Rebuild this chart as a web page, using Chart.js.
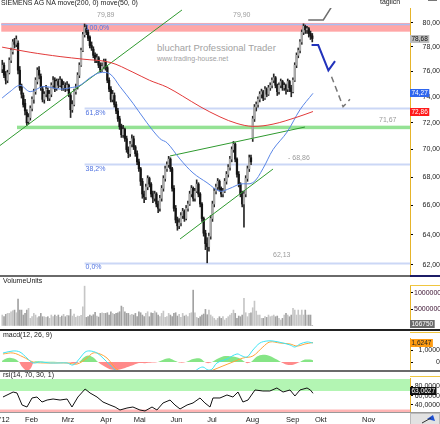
<!DOCTYPE html>
<html>
<head>
<meta charset="utf-8">
<script src="https://cdn.jsdelivr.net/npm/chart.js@4/dist/chart.umd.min.js"></script>
<style>
  body { margin:0; background:#fff; width:440px; height:424px; overflow:hidden; position:relative; font-family:"Liberation Sans", Arial, sans-serif; }
  canvas { position:absolute; left:0; }
  .lbl { position:absolute; font-size:7px; line-height:8px; color:#1a1a1a; white-space:nowrap; }
  .bar { position:absolute; }
</style>
</head>
<body>
<div class="lbl" style="left:157px;top:43px;font-size:9.5px;line-height:10px;color:#a2a2a2">bluchart Professional Trader</div>
<div class="lbl" style="left:157px;top:55px;color:#a2a2a2">www.trading-house.net</div>

<canvas id="priceCanvas" width="440" height="277" style="top:0"></canvas>
<canvas id="volumeCanvas" width="440" height="53" style="top:277px"></canvas>
<canvas id="macdCanvas" width="440" height="42" style="top:330px"></canvas>
<canvas id="rsiCanvas" width="440" height="52" style="top:372px"></canvas>

<div class="lbl" style="left:1px;top:-1px">SIEMENS AG NA move(200, 0) move(50, 0)</div>
<div class="lbl" style="left:380px;top:-2px">täglich</div>
<div class="bar" style="left:428px;top:0;width:9px;height:1px;background:#777"></div>
<div class="lbl" style="left:3px;top:277px">VolumeUnits</div>
<div class="lbl" style="left:3px;top:331px">macd(12, 26, 9)</div>
<div class="lbl" style="left:3px;top:371px">rsi(14, 70, 30, 1)</div>

<div class="bar" style="left:0;top:275px;width:410px;height:2px;background:#6a6a6a"></div>
<div class="bar" style="left:410px;top:275px;width:30px;height:2px;background:#1c1c66"></div>
<div class="bar" style="left:410px;top:285px;width:30px;height:1px;background:#f0c640"></div>
<div class="bar" style="left:0;top:329px;width:440px;height:2px;background:#222"></div>
<div class="bar" style="left:410px;top:332px;width:30px;height:1px;background:#f0c640"></div>
<div class="bar" style="left:0;top:370px;width:440px;height:2px;background:#6a6a6a"></div>
<div class="bar" style="left:410px;top:376px;width:30px;height:1px;background:#f0c640"></div>
<div class="bar" style="left:0;top:412px;width:440px;height:1px;background:#9a9a9a"></div>

<script>
  Chart.defaults.font.family = '"Liberation Sans", Arial, sans-serif';
  Chart.defaults.font.size = 7;
  Chart.defaults.color = '#222';
  Chart.defaults.animation = false;

  // trading day index of the first candle (2 Jan 2012 = 0)
  const firstDay = 9;

  const opens = [
    76.2, 76.5, 75.8, 75.3, 75.9, 76.9, 77.6, 78.4, 78.2, 78.3,
    76.1, 74.8, 74.1, 73.5, 72.8, 72.1, 72.4, 73.1, 73.8, 74.4,
    75.2, 76.1, 75.6, 74.6, 73.8, 74.2, 74.5, 73.9, 74.2, 74.9,
    75.3, 74.7, 75.2, 74.9, 75.3, 74.7, 74.9, 74.6, 74.9, 74.1,
    73.0, 73.4, 74.4, 74.8, 75.7, 76.5, 77.7, 79.0, 79.5, 79.2,
    78.8, 78.1, 77.8, 77.3, 76.9, 77.1, 76.5, 76.1, 76.4, 76.8,
    76.3, 75.3, 74.6, 73.8, 74.1, 73.4, 72.9, 72.3, 71.7, 71.1,
    71.5, 70.8, 70.0, 69.7, 70.4, 70.8, 70.2, 69.7, 69.1, 68.6,
    67.7, 66.8, 66.6, 67.3, 67.9, 67.5, 66.8, 66.5, 66.8, 66.1,
    65.8, 66.5, 67.2, 67.9, 68.6, 68.9, 69.3, 68.6, 67.2, 65.8,
    65.0, 64.6, 64.8, 65.3, 65.6, 65.1, 65.8, 66.1, 66.8, 67.2,
    66.5, 67.0, 67.5, 66.8, 66.1, 65.1, 64.1, 63.4, 63.2, 63.9,
    65.1, 66.1, 67.0, 67.3, 67.7, 67.2, 66.8, 67.0, 67.7, 68.2,
    68.7, 69.3, 70.0, 70.4, 69.3, 68.2, 67.5, 66.8, 66.1, 66.8,
    67.9, 68.6, 69.4, 70.8, 72.3, 73.2, 73.4, 73.8, 74.2, 74.4,
    73.9, 74.6, 74.2, 74.7, 74.9, 75.3, 75.5, 74.9, 74.4, 74.9,
    75.2, 74.7, 74.9, 74.6, 75.2, 74.7, 74.4, 75.3, 76.5, 77.3,
    77.7, 78.4, 79.2, 79.7, 79.4, 79.5, 79.1, 78.9
  ];
  const highs = [
    76.9, 76.7, 76.0, 76.1, 77.1, 77.9, 78.6, 78.7, 78.9, 78.5,
    76.4, 75.0, 74.3, 73.8, 73.0, 72.7, 73.3, 74.0, 74.6, 75.5,
    76.3, 76.4, 75.8, 74.8, 74.4, 74.9, 74.7, 74.5, 75.1, 75.6,
    75.5, 75.4, 75.4, 75.6, 75.4, 75.2, 75.1, 75.2, 75.0, 74.3,
    73.7, 74.6, 75.0, 75.9, 76.7, 77.9, 79.2, 79.89, 79.8, 79.4,
    78.9, 78.4, 78.0, 77.5, 77.4, 77.2, 76.7, 76.7, 77.0, 77.0,
    76.4, 75.5, 74.8, 74.5, 74.3, 73.6, 73.1, 72.5, 71.9, 71.8,
    71.6, 71.0, 70.2, 70.6, 71.1, 71.0, 70.3, 69.9, 69.3, 68.7,
    67.9, 67.0, 67.5, 68.1, 68.0, 67.6, 67.0, 67.0, 66.9, 66.3,
    66.7, 67.4, 68.1, 68.8, 69.1, 69.5, 69.4, 68.7, 67.4, 66.0,
    65.2, 65.1, 65.5, 65.8, 65.7, 66.0, 66.3, 67.0, 67.4, 67.3,
    67.2, 67.8, 67.6, 66.9, 66.2, 65.2, 64.3, 63.8, 64.1, 65.3,
    66.3, 67.2, 67.5, 67.9, 67.8, 67.3, 67.2, 67.9, 68.4, 68.9,
    69.5, 70.2, 70.6, 70.5, 69.4, 68.4, 67.6, 67.0, 67.0, 68.1,
    68.8, 69.6, 69.6, 72.5, 73.4, 73.6, 74.0, 74.4, 74.6, 74.5,
    74.8, 74.7, 74.9, 75.1, 75.5, 75.8, 75.6, 75.0, 75.1, 75.4,
    75.3, 75.1, 75.0, 75.4, 75.3, 74.9, 75.5, 76.7, 77.5, 77.9,
    78.6, 79.4, 79.9, 79.8, 79.7, 79.6, 79.3, 79.1
  ];
  const lows = [
    75.9, 75.5, 75.0, 75.1, 75.8, 76.7, 77.4, 77.9, 78.0, 75.8,
    74.5, 73.9, 73.2, 72.6, 71.8, 71.9, 72.2, 72.9, 73.5, 74.2,
    75.0, 75.4, 74.5, 73.6, 73.5, 74.0, 73.7, 73.7, 74.0, 74.7,
    74.4, 74.5, 74.7, 74.8, 74.5, 74.5, 74.4, 74.5, 74.0, 72.4,
    72.8, 73.3, 74.2, 74.6, 75.5, 76.4, 77.6, 78.8, 79.0, 78.5,
    77.9, 77.7, 77.1, 76.7, 76.7, 76.3, 75.9, 76.0, 76.2, 76.1,
    75.1, 74.4, 73.6, 73.6, 73.2, 72.7, 72.1, 71.5, 70.9, 70.9,
    70.6, 69.8, 69.4, 69.5, 70.2, 70.0, 69.5, 68.9, 68.4, 67.4,
    66.5, 66.2, 66.4, 67.1, 67.3, 66.6, 66.2, 66.3, 65.9, 65.5,
    65.6, 66.3, 67.0, 67.7, 68.4, 68.7, 68.4, 67.0, 65.6, 64.8,
    64.3, 64.4, 64.6, 65.1, 64.9, 65.0, 65.6, 66.0, 66.6, 66.3,
    66.3, 66.9, 66.6, 65.9, 64.9, 63.9, 63.0, 62.13, 62.9, 63.7,
    64.9, 65.9, 66.8, 67.1, 67.0, 66.6, 66.6, 66.9, 67.5, 68.0,
    68.5, 69.1, 69.8, 69.1, 68.0, 67.3, 66.6, 65.9, 64.5, 66.6,
    67.7, 68.4, 68.9, 70.6, 72.1, 72.9, 73.2, 73.6, 73.9, 73.7,
    73.8, 74.0, 74.1, 74.5, 74.7, 75.1, 74.7, 74.1, 74.2, 74.7,
    74.5, 74.5, 74.2, 74.4, 74.4, 74.0, 74.3, 75.2, 76.3, 77.1,
    77.5, 78.2, 79.0, 79.1, 79.1, 78.8, 78.6, 78.4
  ];
  const closes = [
    76.5, 75.7, 75.3, 75.9, 76.9, 77.7, 78.4, 78.2, 78.6, 76.1,
    74.7, 74.2, 73.4, 72.9, 72.0, 72.4, 73.1, 73.8, 74.4, 75.3,
    76.1, 75.7, 74.7, 73.8, 74.2, 74.6, 73.9, 74.2, 74.9, 75.3,
    74.6, 75.2, 74.9, 75.3, 74.7, 74.9, 74.6, 74.9, 74.2, 73.0,
    73.4, 74.4, 74.7, 75.7, 76.5, 77.7, 79.0, 79.6, 79.2, 78.7,
    78.1, 77.9, 77.3, 76.9, 77.1, 76.5, 76.1, 76.4, 76.8, 76.3,
    75.3, 74.6, 73.8, 74.2, 73.4, 72.9, 72.3, 71.7, 71.1, 71.5,
    70.8, 70.0, 69.7, 70.4, 70.8, 70.2, 69.7, 69.1, 68.6, 67.7,
    66.8, 66.6, 67.3, 67.9, 67.5, 66.8, 66.5, 66.8, 66.1, 65.8,
    66.5, 67.2, 67.9, 68.6, 68.9, 69.3, 68.6, 67.2, 65.8, 65.0,
    64.6, 64.8, 65.3, 65.6, 65.1, 65.8, 66.1, 66.8, 67.2, 66.5,
    67.0, 67.5, 66.8, 66.1, 65.1, 64.1, 63.4, 63.2, 63.9, 65.1,
    66.1, 67.0, 67.3, 67.7, 67.2, 66.8, 67.0, 67.7, 68.2, 68.7,
    69.3, 70.0, 70.4, 69.3, 68.2, 67.5, 66.8, 66.1, 66.8, 67.9,
    68.6, 69.4, 69.1, 72.3, 73.2, 73.4, 73.8, 74.2, 74.4, 73.9,
    74.6, 74.2, 74.7, 74.9, 75.3, 75.5, 74.9, 74.4, 74.9, 75.2,
    74.7, 74.9, 74.6, 75.2, 74.7, 74.4, 75.3, 76.5, 77.3, 77.7,
    78.4, 79.2, 79.7, 79.4, 79.5, 79.1, 78.9, 78.68
  ];
  // volume in millions of units
  const volumeMio = [
    3.3, 2.8, 3.5, 3.8, 3.8, 4.3, 4.6, 4.8, 4.0, 8.1,
    4.8, 4.8, 3.3, 3.8, 4.8, 5.3, 2.3, 2.8, 3.8, 3.3,
    2.5, 2.8, 3.8, 2.8, 2.8, 2.6, 2.8, 2.3, 3.3, 2.8,
    3.3, 2.9, 3.3, 2.6, 3.0, 3.5, 2.8, 3.2, 3.1, 5.0,
    3.0, 3.6, 2.6, 3.0, 2.9, 3.2, 5.8, 12.0, 2.6, 2.8,
    3.3, 3.0, 3.4, 4.1, 3.0, 2.7, 3.8, 4.0, 3.8, 3.8,
    4.0, 3.3, 4.3, 3.8, 3.5, 3.8, 4.0, 4.3, 6.0, 5.6,
    4.3, 3.8, 3.8, 3.3, 3.5, 3.3, 3.8, 2.8, 4.3, 4.0,
    3.3, 2.8, 3.8, 4.3, 2.8, 4.0, 3.8, 4.5, 4.0, 3.3,
    2.8, 3.8, 4.5, 2.6, 2.8, 3.8, 3.3, 2.8, 3.8, 4.0,
    3.0, 3.5, 2.6, 3.8, 3.0, 3.3, 2.8, 3.8, 4.0, 10.8,
    4.0, 2.6, 2.3, 2.8, 3.3, 3.6, 5.0, 3.4, 4.8, 3.3,
    2.8, 2.3, 1.8, 2.3, 2.8, 2.3, 2.8, 1.8, 2.3, 2.8,
    3.3, 3.8, 4.8, 3.8, 2.3, 3.0, 2.8, 3.3, 8.3, 4.0,
    2.8, 3.8, 4.0, 5.5, 7.5, 4.5, 3.3, 3.3, 2.3, 2.3,
    2.8, 2.6, 3.3, 2.8, 3.0, 3.3, 2.8, 3.0, 2.3, 1.8,
    2.3, 3.3, 3.8, 3.3, 2.8, 3.3, 5.3, 4.8, 3.3, 4.8,
    3.3, 4.8, 3.3, 4.8, 3.3, 3.3, 3.3, 0.16675
  ];

  // moving averages: [trading day, value]
  const ma200 = [[8.9,77.97],[24.9,77.55],[42,77.2],[55.1,76.99],[70.5,76.73],[83.6,75.94],[93,75.3],[103.1,74.75],[112,74.05],[121.9,73.24],[133.3,72.45],[143,71.95],[152.1,71.73],[163.6,71.9],[177.3,72.43],[186.4,72.86]];
  const ma50 = [[8.9,73.9],[13.4,74.4],[19.1,74.9],[24.9,74.4],[32.3,74.8],[42,74.6],[47.7,74.7],[53.4,74.9],[59.1,75.5],[64.8,75.9],[70.5,75.8],[76.2,74.8],[83.6,73.5],[91.6,72.0],[99.1,70.8],[103.1,70.5],[110.5,69.3],[117.9,68.3],[125.9,67.6],[133.3,67.0],[139,67.2],[144.7,67.5],[152.1,67.6],[157.8,68.6],[163.6,70.0],[171.6,71.3],[179,73.0],[186.4,74.27]];

  // drawn trend lines and projections: [trading day, price]
  const trendLines = [
    [[7.7,70.3],[111.6,81.08]],
    [[104.8,69.53],[181.8,71.68]],
    [[110.5,63.71],[163.6,68.58]]
  ];
  const projGrey = [[183.7,80.23],[192.3,80.23],[201,82.3]];
  const projBlue = [[185.6,78.14],[189.4,78.14],[195.2,76.08],[199,76.83]];
  const projDashed = [[197,75.58],[203.6,73.23],[207.5,73.8]];

  const fibLevels = [79.89, 73.11, 68.91, 62.13];
  const fibLabels = ['100,0%', '61,8%', '38,2%', '0,0%'];
  const fibStartDay = 56;
  const resistanceZone = [79.25, 79.98];
  const supportLevel = 71.67;
  const supportStartDay = 17.4;

  // MACD (12,26,9): [trading day, value]
  const macdLine = [[9.4,0.75],[15.2,0.92],[19.1,0.83],[23.1,0.33],[26.6,-0.08],[30.6,0],[36.3,-0.08],[42,-0.08],[46,-0.08],[49.4,-0.25],[53.4,0.33],[56.3,0.83],[59.1,0.92],[63.1,0.75],[66.5,0.33],[70.5,-0.25],[73.4,-0.67],[79.1,-1.2],[87.6,-1.6],[99,-1.3],[110.5,-1.4],[117,-1.0],[120.7,-0.58],[123.6,-0.42],[126.5,-0.67],[128.7,-0.6],[131.6,-0.08],[137.3,0.25],[143,0.67],[145.9,0.5],[148.8,0.42],[152.1,1.0],[156.1,1.58],[160.1,1.75],[163.6,1.75],[169.3,1.58],[173.3,1.42],[176.1,1.25],[179,1.5],[183,1.67],[186.4,1.58]];
  const macdSignal = [[9.4,0.67],[15.2,0.75],[20.9,0.42],[26.6,0],[32.3,-0.08],[38,-0.08],[46,-0.08],[51.7,-0.17],[57.4,0.33],[60.8,0.75],[64.8,0.67],[68.8,0.33],[72.2,-0.25],[75.1,-0.67],[85,-1.1],[100,-1.4],[115,-1.3],[125,-0.9],[129.3,-0.67],[135,-0.33],[140.7,0],[146.4,0.33],[152.1,0.5],[157.8,1.25],[161.8,1.67],[167.6,1.58],[173.3,1.5],[177.3,1.33],[181.8,1.5],[186.4,1.6247]];
  const macdHist = [[8.9,0.1],[11.2,0.3],[13.4,0.35],[16.3,0.25],[18.6,0],[20.3,-0.4],[23.1,-0.75],[25.4,-0.5],[27.1,0],[30.6,0.05],[35.1,0.02],[42,0],[47.7,-0.05],[50.5,-0.15],[52.8,0],[55.7,0.4],[58,0.55],[60.8,0.4],[63.7,0],[66.5,-0.3],[70.5,-0.6],[75.1,-0.65],[79.1,-0.5],[83.1,-0.3],[86.5,-0.1],[90.5,-0.1],[94.5,-0.05],[97.9,0],[101.9,0.25],[104.8,0.3],[107.6,0.1],[110.5,-0.05],[113.9,0],[117.9,0.25],[121.9,0.3],[124.7,0],[126.5,-0.1],[128.7,0],[132.2,0.3],[136.2,0.5],[140.7,0.45],[144.7,0.3],[147.6,0],[148.8,-0.1],[151,0],[154.4,0.45],[157.8,0.6],[161.8,0.5],[165.8,0.2],[168.1,0],[171,-0.2],[174.4,-0.25],[177.3,-0.1],[179,0],[181.8,0.2],[184.7,0.2],[186.4,0.15]];

  // RSI (14): [trading day, value]
  const rsiLine = [[9.4,57.0],[15.2,67.8],[17.4,65.7],[20.3,39.7],[23.1,35.4],[26,54.9],[28.8,57.0],[31.7,46.2],[34.6,50.5],[38,52.7],[42,50.5],[46,52.7],[48.8,35.4],[52.2,57.0],[56.3,74.3],[59.1,65.7],[63.1,57.0],[66.5,46.2],[70.5,39.7],[73.4,35.4],[76.2,28.9],[80.2,33.2],[83.6,35.4],[87.6,28.9],[90.5,26.8],[94.5,35.4],[97.3,28.9],[100.8,44.1],[104.8,50.5],[107.6,39.7],[110.5,31.1],[114.5,39.7],[117.9,44.1],[121.9,54.9],[124.7,44.1],[127.6,35.4],[129.3,54.9],[133.3,54.9],[137.3,61.4],[140.7,57.0],[143.6,67.8],[146.4,46.2],[149.3,50.5],[153.3,72.2],[157.8,70.0],[161.8,70.0],[165.8,76.5],[169.3,67.8],[173.3,72.2],[176.1,59.2],[179,72.2],[183,76.5],[185,72.0],[186.4,65.0]];

  const monthTicks = [7.7, 22, 43, 65, 84, 105, 126, 148, 171, 187.5, 214.4];
  const monthLabels = ["'12", 'Feb', 'Mrz', 'Apr', 'Mai', 'Jun', 'Jul', 'Aug', 'Sep', 'Okt', 'Nov'];
  const priceTicks = [62, 64, 66, 68, 70, 72, 74, 76, 78, 80];
  const volumeTicks = [0, 5, 10];
  const macdTicks = [0, 1];
  const rsiTicks = [40, 60, 80];

  // shared x range (trading days) across all panels
  const dayMin = 7.7, dayMax = 241.8;

  const fmt = (v, d) => v.toFixed(d).replace('.', ',');
  const toXY = arr => arr.map(([x, y]) => ({x, y}));
  const isUp = closes.map((c, i) => c >= opens[i]);

  function rightAxis(extra) {
    return Object.assign({
      position: 'right',
      afterFit(s) { s.width = 30; s.paddingTop = 0; s.paddingBottom = 0; },
      grid: { drawOnChartArea: false, drawTicks: true, tickLength: 3, color: '#000' },
      border: { display: true, color: '#e6b42a', width: 1, dash: [1, 1] },
      ticks: { autoSkip: false, color: '#222', font: { size: 7 }, crossAlign: 'far', padding: 2 }
    }, extra);
  }
  function hiddenX() {
    return { type: 'linear', min: dayMin, max: dayMax, offset: false, display: false };
  }
  function valueBox(ctx, x, y, text, bg, fg) {
    ctx.save();
    ctx.font = '6.5px "Liberation Sans", Arial, sans-serif';
    const w = ctx.measureText(text).width + 3;
    const yy = Math.round(y);
    ctx.fillStyle = bg;
    ctx.fillRect(x, yy - 4, w, 8);
    ctx.fillStyle = fg;
    ctx.textAlign = 'left';
    ctx.textBaseline = 'middle';
    ctx.fillText(text, x + 1.5, yy + 0.5);
    ctx.restore();
  }
  function lineSet(points, color, width, extra) {
    return Object.assign({
      type: 'line', data: toXY(points), borderColor: color, borderWidth: width,
      pointRadius: 0, tension: 0, fill: false, order: 0
    }, extra || {});
  }

  // ---------- price panel ----------
  const priceOverlay = {
    id: 'priceOverlay',
    beforeDatasetsDraw(chart) {
      const {ctx, chartArea: {right}, scales: {x, y}} = chart;
      ctx.save();
      const x0 = x.getPixelForValue(firstDay) - 1;
      const zt = y.getPixelForValue(resistanceZone[1]);
      const zb = y.getPixelForValue(resistanceZone[0]);
      ctx.fillStyle = '#ffa6a6';
      ctx.fillRect(x0, zt, right - x0, zb - zt);

      const sx = x.getPixelForValue(supportStartDay);
      const sy = y.getPixelForValue(supportLevel);
      ctx.fillStyle = '#94e294';
      ctx.fillRect(sx, sy - 1.5, right - sx, 3.5);

      fibLevels.forEach((lv, i) => {
        const py = Math.round(y.getPixelForValue(lv)) + 0.5;
        ctx.strokeStyle = i === 0 ? '#a9bdf3' : '#cbd7f6';
        ctx.lineWidth = i === 0 ? 1.5 : 2;
        ctx.beginPath();
        ctx.moveTo(i === 0 ? x0 : x.getPixelForValue(fibStartDay), py);
        ctx.lineTo(right, py);
        ctx.stroke();
      });
      ctx.restore();
    },
    afterDatasetsDraw(chart) {
      const {ctx, scales: {x, y}} = chart;
      ctx.save();
      ctx.font = '7px "Liberation Sans", Arial, sans-serif';
      ctx.textBaseline = 'middle';
      ctx.textAlign = 'left';
      const fx = x.getPixelForValue(fibStartDay) + 1;
      ctx.fillStyle = '#4f72e0';
      fibLevels.forEach((lv, i) => ctx.fillText(fibLabels[i], fx, y.getPixelForValue(lv) + 4.5));
      ctx.fillStyle = '#9b9b9b';
      ctx.fillText(fmt(highs[56 - firstDay], 2), 97, y.getPixelForValue(fibLevels[0]) - 9);
      ctx.fillText(fmt(Math.max(...highs.slice(150)), 2), 233, y.getPixelForValue(fibLevels[0]) - 9);
      ctx.fillText(fmt(supportLevel, 2), 379, y.getPixelForValue(supportLevel) - 7);
      ctx.fillText('- 68,86', 288, y.getPixelForValue(68.86) - 7);
      ctx.fillText(fmt(fibLevels[3], 2), 273, y.getPixelForValue(fibLevels[3]) - 8);
      ctx.restore();
    },
    afterDraw(chart) {
      const {ctx, chartArea: {right}, scales: {y}} = chart;
      const lastClose = closes[closes.length - 1];
      valueBox(ctx, right, y.getPixelForValue(lastClose), fmt(lastClose, 2), '#bdbdbd', '#111');
      const m50 = ma50[ma50.length - 1][1], m200 = ma200[ma200.length - 1][1];
      valueBox(ctx, right, y.getPixelForValue(m50), fmt(m50, 2), '#2f66ee', '#fff');
      valueBox(ctx, right, y.getPixelForValue(m200), fmt(m200, 2), '#ff1a1a', '#fff');
    }
  };

  const wickData = closes.map((c, i) => ({x: firstDay + i, y: [lows[i], highs[i]]}));
  const bodyData = closes.map((c, i) => ({x: firstDay + i, y: [opens[i], c]}));

  new Chart(document.getElementById('priceCanvas'), {
    type: 'bar',
    data: {
      datasets: [
        lineSet(ma200, '#e23a3a', 1, {tension: 0.35}),
        lineSet(ma50, '#5a86e6', 1, {tension: 0.35}),
        lineSet(trendLines[0], '#2f9a2f', 1),
        lineSet(trendLines[1], '#2f9a2f', 1),
        lineSet(trendLines[2], '#2f9a2f', 1),
        lineSet(projGrey, '#6e6e6e', 1.5),
        lineSet(projBlue, '#2233bb', 2),
        lineSet(projDashed, '#777', 1.5, {borderDash: [6, 4]}),
        { label: 'body', data: bodyData, backgroundColor: isUp.map(u => u ? '#aaaaaa' : '#151515'),
          barThickness: 1.6, minBarLength: 1, grouped: false, order: 1 },
        { label: 'wick', data: wickData, backgroundColor: '#262626',
          barThickness: 1, grouped: false, order: 2 }
      ]
    },
    options: {
      responsive: false, devicePixelRatio: 1,
      layout: { padding: { top: 8, bottom: 2, left: 0, right: 0 } },
      plugins: { legend: { display: false }, tooltip: { enabled: false } },
      scales: {
        x: hiddenX(),
        y: rightAxis({
          type: 'logarithmic', min: 61.34, max: 81.25, beginAtZero: false,
          afterBuildTicks(s) { s.ticks = priceTicks.map(v => ({value: v})); },
          ticks: { autoSkip: false, color: '#222', font: { size: 7 }, crossAlign: 'far', padding: 2,
                   callback: v => fmt(v, 2) }
        })
      }
    },
    plugins: [priceOverlay]
  });

  // ---------- volume panel ----------
  new Chart(document.getElementById('volumeCanvas'), {
    type: 'bar',
    data: {
      datasets: [{
        data: volumeMio.map((v, i) => ({x: firstDay + i, y: v})),
        backgroundColor: isUp.map(u => u ? '#c6c6c6' : '#a2a2a2'),
        barThickness: 1, grouped: false
      }]
    },
    options: {
      responsive: false, devicePixelRatio: 1,
      layout: { padding: { top: 8, bottom: 4, left: 0, right: 0 } },
      plugins: { legend: { display: false }, tooltip: { enabled: false } },
      scales: {
        x: hiddenX(),
        y: rightAxis({
          type: 'linear', min: 0, max: 12.35,
          afterBuildTicks(s) { s.ticks = volumeTicks.map(v => ({value: v})); },
          ticks: { autoSkip: false, color: '#3a1030', font: { size: 7 }, crossAlign: 'near', padding: 1,
                   callback: v => String(Math.round(v * 1000000)) }
        })
      }
    },
    plugins: [{
      id: 'volBox',
      afterDraw(chart) {
        const {ctx, chartArea: {right}, scales: {y}} = chart;
        const last = volumeMio[volumeMio.length - 1];
        valueBox(ctx, right, y.getPixelForValue(last) - 1, String(Math.round(last * 1000000)), '#6b6b6b', '#fff');
      }
    }]
  });

  // ---------- MACD panel ----------
  new Chart(document.getElementById('macdCanvas'), {
    type: 'line',
    data: {
      datasets: [
        { data: toXY(macdLine), borderColor: '#3ee4f4', borderWidth: 1, pointRadius: 0, tension: 0.35, order: 0 },
        { data: toXY(macdSignal), borderColor: '#ffa43a', borderWidth: 1, pointRadius: 0, tension: 0.35, order: 1 },
        { data: toXY(macdHist), borderWidth: 0, pointRadius: 0, tension: 0.3, order: 2,
          fill: { target: 'origin', above: '#86e586', below: '#ff8a8a' } }
      ]
    },
    options: {
      responsive: false, devicePixelRatio: 1,
      layout: { padding: { top: 8, bottom: 1, left: 0, right: 0 } },
      plugins: { legend: { display: false }, tooltip: { enabled: false } },
      scales: {
        x: hiddenX(),
        y: rightAxis({
          type: 'linear', min: -0.75, max: 2.0,
          afterBuildTicks(s) { s.ticks = macdTicks.map(v => ({value: v})); },
          ticks: { autoSkip: false, color: '#222', font: { size: 7 }, crossAlign: 'far', padding: 2,
                   callback: v => v === 0 ? '0' : fmt(v, 4) }
        })
      }
    },
    plugins: [{
      id: 'macdBox',
      afterDraw(chart) {
        const {ctx, chartArea: {right}, scales: {y}} = chart;
        const last = macdSignal[macdSignal.length - 1][1];
        valueBox(ctx, right, y.getPixelForValue(last), fmt(last, 4), '#ff9c12', '#222');
      }
    }]
  });

  // ---------- RSI panel ----------
  new Chart(document.getElementById('rsiCanvas'), {
    type: 'line',
    data: {
      datasets: [
        { data: toXY(rsiLine), borderColor: '#111', borderWidth: 1, pointRadius: 0, tension: 0 }
      ]
    },
    options: {
      responsive: false, devicePixelRatio: 1,
      layout: { padding: { top: 6, bottom: 0, left: 0, right: 0 } },
      plugins: { legend: { display: false }, tooltip: { enabled: false } },
      scales: {
        x: {
          type: 'linear', min: dayMin, max: dayMax, offset: false,
          afterBuildTicks(s) { s.ticks = monthTicks.map(v => ({value: v})); },
          afterFit(s) { s.height = 12; s.paddingLeft = 0; s.paddingRight = 0; },
          grid: { display: false, drawTicks: false },
          border: { display: false },
          ticks: { autoSkip: false, maxRotation: 0, align: 'start', padding: 3, color: '#222',
                   font: { size: 7.5 }, callback: (v, i) => monthLabels[i] }
        },
        y: rightAxis({
          type: 'linear', min: 24.6, max: 98.1,
          afterBuildTicks(s) { s.ticks = rsiTicks.map(v => ({value: v})); },
          ticks: { autoSkip: false, color: '#222', font: { size: 7 }, crossAlign: 'far', padding: 2,
                   callback: v => fmt(v, 4) }
        })
      }
    },
    plugins: [{
      id: 'rsiBands',
      beforeDatasetsDraw(chart) {
        const {ctx, chartArea: {left, right, top, bottom}, scales: {y}} = chart;
        ctx.save();
        const y70 = y.getPixelForValue(70), y30 = y.getPixelForValue(30);
        ctx.fillStyle = '#b3f5b3';
        ctx.fillRect(left, top + 1, right - left, y70 - top - 1);
        ctx.fillStyle = '#ffb4b4';
        ctx.fillRect(left, y30, right - left, bottom - y30);
        ctx.restore();
      },
      afterDraw(chart) {
        const {ctx, chartArea: {right, bottom}, scales: {y}} = chart;
        const last = rsiLine[rsiLine.length - 1][1];
        valueBox(ctx, right, y.getPixelForValue(last) - 2, '63,0627', '#111', '#fff');
        // corner button
        ctx.save();
        ctx.fillStyle = '#e2e2e2';
        ctx.fillRect(right, bottom + 1, 30, 12);
        ctx.strokeStyle = '#bbb';
        ctx.strokeRect(right + 0.5, bottom + 1.5, 29, 11);
        ctx.fillStyle = '#1f4fd0';
        ctx.beginPath();
        ctx.moveTo(right + 23, bottom + 3);
        ctx.lineTo(right + 25, bottom + 9);
        ctx.lineTo(right + 17, bottom + 7);
        ctx.closePath();
        ctx.fill();
        ctx.strokeStyle = '#333';
        ctx.beginPath();
        ctx.moveTo(right + 12, bottom + 11);
        ctx.lineTo(right + 21, bottom + 6);
        ctx.stroke();
        ctx.restore();
      }
    }]
  });
</script>
</body>
</html>
